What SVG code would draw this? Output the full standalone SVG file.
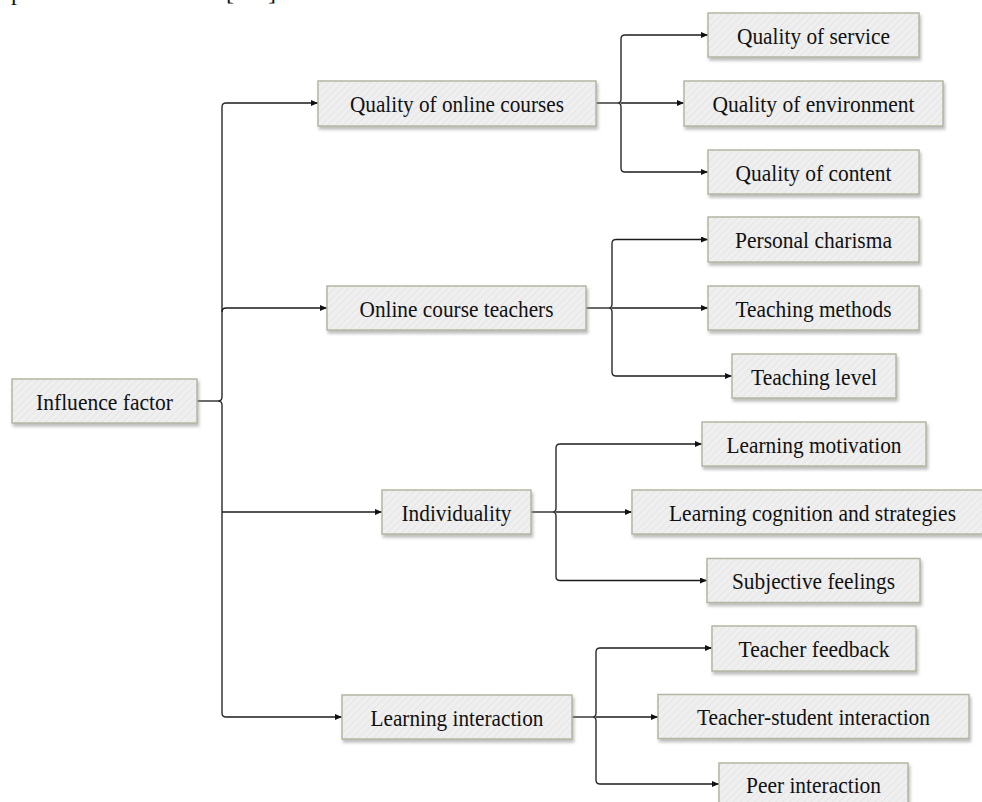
<svg xmlns="http://www.w3.org/2000/svg" width="982" height="802" viewBox="0 0 982 802">
<style>
.box{fill:url(#hatch);stroke:#b4b8a2;stroke-width:1.5;filter:url(#shadow)}
.lbl{font-family:"Liberation Serif","Times New Roman",serif;font-size:24px;fill:#111;text-anchor:middle}
.frag{font-family:"Liberation Serif","Times New Roman",serif;font-size:24px;fill:#111}
.con{fill:none;stroke:#2a2a2a;stroke-width:1.4}
.arr{fill:none;stroke:#1a1a1a;stroke-width:1.3;marker-end:url(#ah)}
</style>
<defs>
<pattern id="hatch" patternUnits="userSpaceOnUse" width="5" height="5" patternTransform="rotate(45)">
<rect width="5" height="5" fill="#efefef"/>
<line x1="0" y1="0" x2="0" y2="5" stroke="#e3e3e3" stroke-width="1.6"/>
</pattern>
<filter id="shadow" x="-10%" y="-20%" width="125%" height="160%">
<feDropShadow dx="1.5" dy="3" stdDeviation="1.6" flood-color="#888" flood-opacity="0.55"/>
</filter>
<marker id="ah" markerUnits="userSpaceOnUse" markerWidth="8" markerHeight="7" refX="7" refY="3" orient="auto">
<path d="M0,0 L7,3 L0,6 z" fill="#111"/>
</marker>
</defs>
<rect width="982" height="802" fill="#fff"/>
<text class="frag" x="11" y="0">p</text>
<text class="frag" x="226" y="0">[</text>
<text class="frag" x="268" y="0">]</text>
<g id="connectors">
<path class="con" d="M197,401 H218"/>
<path class="con" d="M226,103 Q222,103 222,107 V397 Q222,401 218,401 Q222,401 222,405 V713 Q222,717 226,717"/>
<path class="arr" d="M226,103 H318"/>
<path class="arr" d="M222,312 Q222,308 226,308 H327"/>
<path class="arr" d="M222,512 H382"/>
<path class="arr" d="M226,717 H342"/>
<path class="con" d="M596,103 H618"/>
<path class="con" d="M625,35 Q621,35 621,39 V99 Q621,103 618,103 Q621,103 621,107 V168 Q621,172 625,172"/>
<path class="arr" d="M625,35 H708"/>
<path class="arr" d="M621,103 H684"/>
<path class="arr" d="M625,172 H708"/>
<path class="con" d="M586,308 H609"/>
<path class="con" d="M616,239.5 Q612,239.5 612,243.5 V304 Q612,308 609,308 Q612,308 612,312 V372 Q612,376 616,376"/>
<path class="arr" d="M616,239.5 H708"/>
<path class="arr" d="M612,308 H708"/>
<path class="arr" d="M616,376 H732"/>
<path class="con" d="M531,512 H553"/>
<path class="con" d="M560,444 Q556,444 556,448 V508 Q556,512 553,512 Q556,512 556,516 V576.5 Q556,580.5 560,580.5"/>
<path class="arr" d="M560,444 H702"/>
<path class="arr" d="M556,512 H632"/>
<path class="arr" d="M560,580.5 H707"/>
<path class="con" d="M572,717 H593"/>
<path class="con" d="M600,648 Q596,648 596,652 V713 Q596,717 593,717 Q596,717 596,721 V780 Q596,784 600,784"/>
<path class="arr" d="M600,648 H712"/>
<path class="arr" d="M596,717 H658"/>
<path class="arr" d="M600,784 H719"/>
</g>
<g id="influence-factor"><rect class="box" x="12" y="379" width="185" height="44"/><text class="lbl" x="104.5" y="409.5" textLength="137" lengthAdjust="spacingAndGlyphs">Influence factor</text></g>
<g id="quality-online-courses"><rect class="box" x="318" y="81" width="278" height="45"/><text class="lbl" x="457" y="111.5" textLength="214" lengthAdjust="spacingAndGlyphs">Quality of online courses</text></g>
<g id="online-course-teachers"><rect class="box" x="327" y="286" width="259" height="44"/><text class="lbl" x="456.5" y="316.5" textLength="194" lengthAdjust="spacingAndGlyphs">Online course teachers</text></g>
<g id="individuality"><rect class="box" x="382" y="490" width="149" height="44"/><text class="lbl" x="456.5" y="520.5" textLength="110" lengthAdjust="spacingAndGlyphs">Individuality</text></g>
<g id="learning-interaction"><rect class="box" x="342" y="695" width="230" height="44"/><text class="lbl" x="457" y="725.5" textLength="173" lengthAdjust="spacingAndGlyphs">Learning interaction</text></g>
<g id="quality-service"><rect class="box" x="708" y="13" width="211" height="44"/><text class="lbl" x="813.5" y="43.5" textLength="153" lengthAdjust="spacingAndGlyphs">Quality of service</text></g>
<g id="quality-environment"><rect class="box" x="684" y="81" width="259" height="45"/><text class="lbl" x="813.5" y="111.5" textLength="202" lengthAdjust="spacingAndGlyphs">Quality of environment</text></g>
<g id="quality-content"><rect class="box" x="708" y="150" width="211" height="44"/><text class="lbl" x="813.5" y="180.5" textLength="156" lengthAdjust="spacingAndGlyphs">Quality of content</text></g>
<g id="personal-charisma"><rect class="box" x="708" y="217" width="211" height="45"/><text class="lbl" x="813.5" y="248" textLength="157" lengthAdjust="spacingAndGlyphs">Personal charisma</text></g>
<g id="teaching-methods"><rect class="box" x="708" y="286" width="211" height="44"/><text class="lbl" x="813.5" y="316.5" textLength="156" lengthAdjust="spacingAndGlyphs">Teaching methods</text></g>
<g id="teaching-level"><rect class="box" x="732" y="354" width="164" height="44"/><text class="lbl" x="814" y="384.5" textLength="126" lengthAdjust="spacingAndGlyphs">Teaching level</text></g>
<g id="learning-motivation"><rect class="box" x="702" y="422" width="224" height="44"/><text class="lbl" x="814" y="452.5" textLength="175" lengthAdjust="spacingAndGlyphs">Learning motivation</text></g>
<g id="learning-cognition"><rect class="box" x="632" y="490" width="361" height="44"/><text class="lbl" x="812.5" y="520.5" textLength="287" lengthAdjust="spacingAndGlyphs">Learning cognition and strategies</text></g>
<g id="subjective-feelings"><rect class="box" x="707" y="558.5" width="213" height="44"/><text class="lbl" x="813.5" y="589" textLength="163" lengthAdjust="spacingAndGlyphs">Subjective feelings</text></g>
<g id="teacher-feedback"><rect class="box" x="712" y="626" width="204" height="45"/><text class="lbl" x="814" y="657" textLength="151" lengthAdjust="spacingAndGlyphs">Teacher feedback</text></g>
<g id="teacher-student"><rect class="box" x="658" y="694.5" width="311" height="44"/><text class="lbl" x="813.5" y="725" textLength="233" lengthAdjust="spacingAndGlyphs">Teacher-student interaction</text></g>
<g id="peer-interaction"><rect class="box" x="719" y="763" width="189" height="45"/><text class="lbl" x="813.5" y="792.5" textLength="135" lengthAdjust="spacingAndGlyphs">Peer interaction</text></g>
</svg>
